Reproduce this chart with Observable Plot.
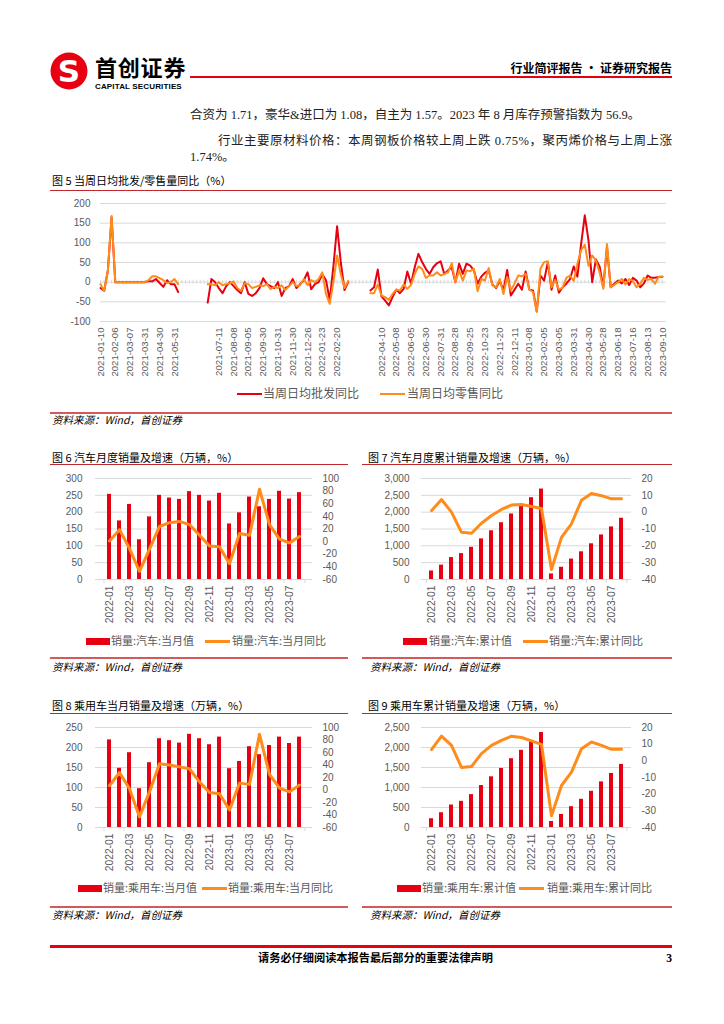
<!DOCTYPE html>
<html><head><meta charset="utf-8">
<script src="https://cdn.jsdelivr.net/npm/d3@7"></script>
<script src="https://cdn.jsdelivr.net/npm/@observablehq/plot@0.6"></script>
<style>
html,body{margin:0;padding:0;background:#fff;}
body{width:724px;height:1024px;position:relative;overflow:hidden;font-family:"Liberation Sans","Noto Sans CJK SC",sans-serif;}
svg{overflow:visible;}
</style></head><body>
<script>
// ---------------- DATA ----------------
const weekTickLabels = ["2021-01-10","2021-02-06","2021-03-07","2021-03-31","2021-04-30","2021-05-31","","",
 "2021-07-11","2021-08-08","2021-09-05","2021-09-30","2021-10-31","2021-11-30","2021-12-26","2022-01-23","2022-02-20","","",
 "2022-04-10","2022-05-08","2022-06-05","2022-06-30","2022-07-31","2022-08-28","2022-09-25","2022-10-23","2022-11-20","2022-12-11",
 "2023-01-08","2023-02-05","2023-03-05","2023-03-31","2023-04-30","2023-05-28","2023-06-18","2023-07-16","2023-08-13","2023-09-10"];

const wholesaleYoY = [
 -15,-22,30,165,0,0,0,0,0,0,0,0,0,3,2,8,-2,-12,5,-5,-5,-25,
 null,null,null,null,null,null,null,
 -52,8,0,-15,-28,-10,0,-10,-20,-28,0,-30,-35,-28,-15,10,-5,-10,-15,0,-35,-15,-10,8,-15,-5,5,25,-18,-5,0,20,5,-45,40,142,50,-20,0,
 null,null,null,null,null,
 -21,-13,32,-36,-47,-59,-38,-19,-28,-17,
 27,-4,38,72,51,34,21,38,48,53,
 21,30,38,0,47,21,47,42,30,-4,
 14,24,30,-6,-15,3,-21,31,-34,-19,
 -4,-19,27,-19,-21,-74,17,4,51,-19,
 17,-27,-13,-4,8,40,14,97,170,106,
 0,58,40,-13,90,-13,-4,4,-3,8,
 -7,11,4,-13,-3,17,11,11,13,14];

const retailYoY = [
 -5,-22,30,168,0,0,0,0,0,0,0,0,0,5,15,15,10,5,-2,0,8,-5,
 null,null,null,null,null,null,null,
 -5,-5,-8,0,-8,-5,-3,2,-15,-22,-3,-5,-15,-12,-8,-10,-5,-18,-12,-15,-8,-20,-10,0,-10,-8,8,-8,5,0,8,25,-30,-55,0,68,20,-15,3,
 null,null,null,null,null,
 -28,-28,-6,-34,-38,-45,-30,-19,-21,-6,
 -17,-7,21,40,34,11,17,17,25,17,
 21,25,48,0,30,4,30,28,34,-23,
 8,4,36,-8,-13,8,-30,13,-21,-3,
 17,15,21,-19,-25,-76,34,51,53,-13,
 6,-19,-14,11,17,3,47,81,95,42,
 68,55,25,-17,97,-13,-7,0,8,-6,
 8,3,-13,-4,11,6,8,-4,14,14];

const months = ["2022-01","2022-02","2022-03","2022-04","2022-05","2022-06","2022-07","2022-08","2022-09","2022-10","2022-11","2022-12",
 "2023-01","2023-02","2023-03","2023-04","2023-05","2023-06","2023-07","2023-08"];

const autoMonthly    = [253,174,223,118,186,250,242,238,261,250,233,256,165,198,245,216,238,262,239,258];
const autoMonthlyYoY = [1,19,-11,-47,-12,24,30,32,27,10,-7,-8,-35,13,10,83,27,4,-2,8];
const autoCum        = [253,427,651,769,956,1206,1447,1686,1947,2198,2430,2686,165,363,607,822,1061,1323,1562,1820];
const autoCumYoY     = [0.9,7.5,0,-12,-12.5,-6.6,-2,1.6,4.2,4.6,3.4,2.2,-34,-15,-6.9,7.1,11.1,9.8,7.9,8];
const pcMonthly      = [219,148,187,97,162,222,217,211,233,222,207,226,147,165,202,182,205,226,210,226];
const pcMonthlyYoY   = [7,28,2,-43,-3,42,40,37,34,13,-4,-6,-32,11,9,89,25,3,-3,8];
const pcCum          = [219,369,562,654,822,1049,1267,1477,1720,1930,2139,2374,151,327,520,705,906,1141,1351,1577];
const pcCumYoY       = [6.7,14.8,9.3,-4,-3.4,4.3,9.3,12.3,14.8,14,12,9.9,-33,-14.8,-6.8,7.3,11.3,9.3,6.9,6.9];

// ---------------- STYLE ----------------
const RED = "#e60012", ORANGE = "#ff8c1a", GRAY = "#595959", GRID = "#d9d9d9";
const FONT = '"Liberation Sans","Noto Sans CJK SC",sans-serif';
const CJK = '"Noto Sans CJK SC","Liberation Sans",sans-serif';
const SERIF = '"Liberation Serif","Noto Sans CJK SC",serif';

function text(str, x, cy, o = {}) {
  const size = o.size || 12;
  const lh = o.lh || 1.4;
  const d = document.createElement("div");
  d.textContent = str;
  Object.assign(d.style, {
    position: "absolute", top: (cy - size * lh / 2) + "px", height: (size * lh) + "px", lineHeight: (size * lh) + "px",
    fontSize: size + "px", color: o.color || "#000", fontWeight: o.weight || "normal", fontFamily: o.family || CJK,
    fontStyle: o.italic ? "italic" : "normal", whiteSpace: "nowrap", letterSpacing: (o.ls || 0) + "px"
  });
  if (o.anchor === "end") d.style.right = (724 - x) + "px"; else d.style.left = x + "px";
  document.body.appendChild(d);
  return d;
}
function box(x, y, w, h, color) {
  const d = document.createElement("div");
  Object.assign(d.style, {position: "absolute", left: x + "px", top: y + "px", width: w + "px", height: h + "px", background: color});
  document.body.appendChild(d);
}
function mount(svg, x, y) {
  const d = document.createElement("div");
  Object.assign(d.style, {position: "absolute", left: x + "px", top: y + "px"});
  d.appendChild(svg);
  document.body.appendChild(d);
}

// ---------------- HEADER ----------------
(function logo() {
  const ns = "http://www.w3.org/2000/svg";
  const s = document.createElementNS(ns, "svg");
  s.setAttribute("width", 42); s.setAttribute("height", 42);
  s.innerHTML = `<circle cx="20" cy="20" r="18.5" fill="${RED}"/><text x="20" y="31" text-anchor="middle" font-family="DejaVu Sans" font-weight="bold" font-size="31" fill="#fff">S</text>`;
  mount(s, 49, 51);
})();
text("首创证券", 95, 66, {size: 22, weight: "bold", ls: 0.8, lh: 1.0});
text("CAPITAL SECURITIES", 95, 87, {size: 8, weight: "bold", family: FONT, lh: 1.0, ls: 0.15});
text("行业简评报告 · 证券研究报告", 672, 68, {size: 12, weight: "bold", anchor: "end"});
box(190, 76, 482, 2, RED);

text("合资为 1.71，豪华&进口为 1.08，自主为 1.57。2023 年 8 月库存预警指数为 56.9。", 190, 116, {size: 12.5, family: SERIF, color: "#222"});
text("行业主要原材料价格：本周钢板价格较上周上跌  0.75%，聚丙烯价格与上周上涨", 218, 142, {size: 12.5, family: SERIF, color: "#222", ls: 0.5});
text("1.74%。", 190, 158, {size: 12.5, family: SERIF, color: "#222"});

// ---------------- FIGURE 5 ----------------
text("图 5 当周日均批发/零售量同比（%）", 52, 181, {size: 11});
box(50, 189.5, 622, 1, "#c0282d");

(function weekly() {
  const idx = wholesaleYoY.map((_, i) => i);
  const rows = idx.map(i => ({i, w: wholesaleYoY[i], r: retailYoY[i]}));
  const ticks = weekTickLabels.map((l, k) => ({l, i: k * 4})).filter(d => d.l !== "");
  const svg = Plot.plot({
    width: 630, height: 188, marginLeft: 50, marginRight: 14, marginTop: 8, marginBottom: 62,
    style: {fontFamily: FONT, fontSize: "10px", color: GRAY, background: "transparent", overflow: "visible"},
    x: {domain: [0, 153.1], axis: null},
    y: {domain: [-100, 200], axis: null},
    marks: [
      Plot.gridY([-100, -50, 50, 100, 150, 200], {stroke: GRID, strokeOpacity: 1}),
      Plot.ruleY([0], {stroke: GRID}),
      Plot.ruleX(idx, {x: d => d, y1: -5, y2: 5, stroke: GRID}),
      Plot.line(rows, {x: "i", y: "w", stroke: RED, strokeWidth: 2}),
      Plot.line(rows, {x: "i", y: "r", stroke: ORANGE, strokeWidth: 2}),
      Plot.axisY([-100, -50, 0, 50, 100, 150, 200], {anchor: "left", tickSize: 0, tickPadding: 10, tickFormat: d => String(d), label: null, fontSize: 10}),
      Plot.axisX(ticks.map(d => d.i), {anchor: "bottom", tickSize: 0, tickPadding: 6, tickRotate: -90, label: null, fontSize: 9.6,
        tickFormat: i => weekTickLabels[i / 4]})
    ]
  });
  mount(svg, 50, 195);
})();
// legend fig 5
box(237, 392.5, 25, 2, RED);
text("当周日均批发同比", 263, 393.5, {size: 12, color: GRAY});
box(380, 392.5, 25, 2, ORANGE);
text("当周日均零售同比", 407, 393.5, {size: 12, color: GRAY});
box(50, 412, 622, 2, "#d35a5a");
text("资料来源：Wind，首创证券", 52, 420.5, {size: 10.5, italic: true});

// ---------------- DUAL CHARTS ----------------
function dualChart(o) {
  const [l0, l1] = o.leftDomain, [r0, r1] = o.rightDomain;
  const toL = v => l0 + (v - r0) * (l1 - l0) / (r1 - r0);
  const fromL = v => r0 + (v - l0) * (r1 - r0) / (l1 - l0);
  const rows = months.map((m, i) => ({m, b: o.bars[i], r: o.line[i]}));
  const step = (o.width - o.mL - o.mR) / months.length;
  const tickMonths = months.filter((m, i) => i % 2 === 0);
  const tickLen = (l1 - l0) * 4 / o.plotH;
  const svg = Plot.plot({
    width: o.width, height: o.mT + o.plotH + o.mB, marginLeft: o.mL, marginRight: o.mR, marginTop: o.mT, marginBottom: o.mB,
    style: {fontFamily: FONT, fontSize: "10px", color: GRAY, background: "transparent", overflow: "visible"},
    x: {type: "band", domain: months, paddingInner: 0.63, paddingOuter: 0.315, axis: null},
    y: {domain: o.leftDomain, axis: null},
    marks: [
      Plot.gridY(o.leftTicks.filter(t => t !== l0), {stroke: GRID, strokeOpacity: 1}),
      Plot.ruleY([l0], {stroke: GRID}),
      Plot.ruleX(tickMonths, {x: d => d, y1: l0 - tickLen, y2: l0, dx: -step / 2, stroke: GRID}),
      Plot.ruleX([months[months.length - 1]], {x: d => d, y1: l0 - tickLen, y2: l0, dx: step / 2, stroke: GRID}),
      Plot.barY(rows, {x: "m", y: "b", fill: RED}),
      Plot.line(rows, {x: "m", y: d => toL(d.r), stroke: ORANGE, strokeWidth: 3, strokeLinejoin: "round"}),
      Plot.axisY(o.leftTicks, {anchor: "left", tickSize: 0, tickPadding: o.lPad, tickFormat: o.leftFmt, label: null, fontSize: 10}),
      Plot.axisY(o.rightTicks.map(toL), {anchor: "right", tickSize: 0, tickPadding: o.rPad, label: null, fontSize: 10,
        tickFormat: v => String(Math.round(fromL(v)))}),
      Plot.axisX(tickMonths, {anchor: "bottom", tickSize: 0, tickPadding: 6, tickRotate: -90, label: null, fontSize: 10.3})
    ]
  });
  mount(svg, o.x, o.y);
}
const comma = d3.format(",");
const rng = (a, b, s) => d3.range(a, b + s / 2, s);

// Figure 6
text("图 6 汽车月度销量及增速（万辆，%）", 52, 457.5, {size: 11});
box(50, 464, 298, 1, "#c0282d");
dualChart({x: 50, y: 465, width: 300, mL: 45, mR: 38, mT: 13, plotH: 101, mB: 50, lPad: 13, rPad: 10,
  leftDomain: [0, 300], leftTicks: rng(0, 300, 50), leftFmt: d => String(d),
  rightDomain: [-60, 100], rightTicks: rng(-60, 100, 20), bars: autoMonthly, line: autoMonthlyYoY});
box(86, 637.5, 24, 7, RED);
text("销量:汽车:当月值", 111, 641, {size: 11, color: GRAY});
box(205, 639.5, 25, 3, ORANGE);
text("销量:汽车:当月同比", 232, 641, {size: 11, color: GRAY});
box(50, 657, 298, 2, "#d35a5a");
text("资料来源：Wind，首创证券", 52, 667, {size: 10.5, italic: true});

// Figure 7
text("图 7 汽车月度累计销量及增速（万辆，%）", 368, 457.5, {size: 11});
box(362, 464, 310, 1, "#c0282d");
dualChart({x: 362, y: 465, width: 310, mL: 59, mR: 41, mT: 13, plotH: 101, mB: 50, lPad: 12, rPad: 10,
  leftDomain: [0, 3000], leftTicks: rng(0, 3000, 500), leftFmt: d => comma(d),
  rightDomain: [-40, 20], rightTicks: rng(-40, 20, 10), bars: autoCum, line: autoCumYoY});
box(403, 637.5, 24, 7, RED);
text("销量:汽车:累计值", 429, 641, {size: 11, color: GRAY});
box(523, 639.5, 25, 3, ORANGE);
text("销量:汽车:累计同比", 549, 641, {size: 11, color: GRAY});
box(362, 657, 310, 2, "#d35a5a");
text("资料来源：Wind，首创证券", 370, 667, {size: 10.5, italic: true});

// Figure 8
text("图 8 乘用车当月销量及增速（万辆，%）", 52, 706, {size: 11});
box(50, 713, 298, 1, "#c0282d");
dualChart({x: 50, y: 714, width: 300, mL: 45, mR: 38, mT: 13, plotH: 100, mB: 50, lPad: 13, rPad: 10,
  leftDomain: [0, 250], leftTicks: rng(0, 250, 50), leftFmt: d => String(d),
  rightDomain: [-60, 100], rightTicks: rng(-60, 100, 20), bars: pcMonthly, line: pcMonthlyYoY});
box(78, 884.5, 24, 7, RED);
text("销量:乘用车:当月值", 103, 888, {size: 11, color: GRAY});
box(202, 886.5, 25, 3, ORANGE);
text("销量:乘用车:当月同比", 228, 888, {size: 11, color: GRAY});
box(50, 906, 298, 2, "#d35a5a");
text("资料来源：Wind，首创证券", 52, 915.5, {size: 10.5, italic: true});

// Figure 9
text("图 9 乘用车累计销量及增速（万辆，%）", 368, 706, {size: 11});
box(362, 713, 310, 1, "#c0282d");
dualChart({x: 362, y: 714, width: 310, mL: 59, mR: 41, mT: 13, plotH: 100, mB: 50, lPad: 12, rPad: 10,
  leftDomain: [0, 2500], leftTicks: rng(0, 2500, 500), leftFmt: d => comma(d),
  rightDomain: [-40, 20], rightTicks: rng(-40, 20, 10), bars: pcCum, line: pcCumYoY});
box(397, 884.5, 24, 7, RED);
text("销量:乘用车:累计值", 422, 888, {size: 11, color: GRAY});
box(519, 886.5, 25, 3, ORANGE);
text("销量:乘用车:累计同比", 547, 888, {size: 11, color: GRAY});
box(362, 906, 310, 2, "#d35a5a");
text("资料来源：Wind，首创证券", 370, 915.5, {size: 10.5, italic: true});

// ---------------- FOOTER ----------------
box(50, 945, 622, 2.5, RED);
text("请务必仔细阅读本报告最后部分的重要法律声明", 258, 958, {size: 11.2, weight: "bold"});
text("3", 672, 958, {size: 11.5, weight: "bold", family: SERIF, anchor: "end"});
</script>
</body></html>
